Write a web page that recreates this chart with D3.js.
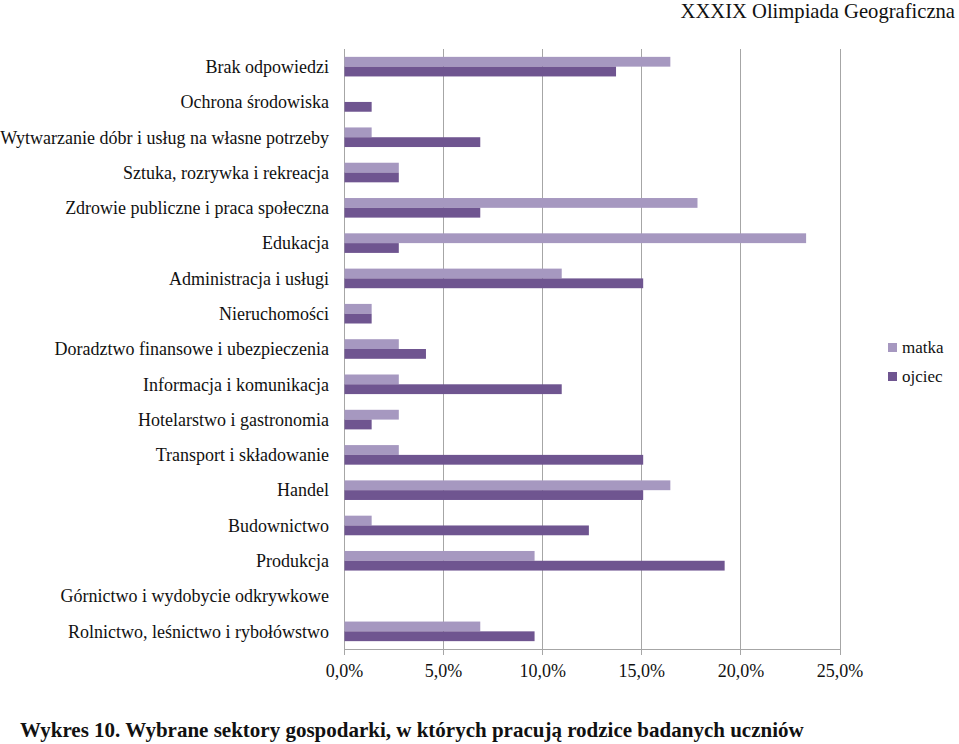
<!DOCTYPE html>
<html><head><meta charset="utf-8">
<script src="https://cdn.jsdelivr.net/npm/d3@7"></script>
<style>body{margin:0;background:#fff}svg{display:block}text{font-family:"Liberation Serif","Times New Roman",serif}</style>
</head><body><svg id="c" width="959" height="744"></svg>
<script>
const categories = ["Brak odpowiedzi","Ochrona środowiska","Wytwarzanie dóbr i usług na własne potrzeby","Sztuka, rozrywka i rekreacja","Zdrowie publiczne i praca społeczna","Edukacja","Administracja i usługi","Nieruchomości","Doradztwo finansowe i ubezpieczenia","Informacja i komunikacja","Hotelarstwo i gastronomia","Transport i składowanie","Handel","Budownictwo","Produkcja","Górnictwo i wydobycie odkrywkowe","Rolnictwo, leśnictwo i rybołówstwo"];
const matka  = [16.44,0,1.37,2.74,17.81,23.29,10.96,1.37,2.74,2.74,2.74,2.74,16.44,1.37,9.59,0,6.85];
const ojciec = [13.70,1.37,6.85,2.74,6.85,2.74,15.07,1.37,4.11,10.96,1.37,15.07,15.07,12.33,19.18,0,9.59];
const seriesNames = ["matka","ojciec"];
const seriesColors = ["#a698c0","#6f5590"];
const ticks = [0,5,10,15,20,25];

const svg = d3.select("#c");
const x = d3.scaleLinear().domain([0,25]).range([344.5,840]);
const y = d3.scaleBand().domain(categories).range([49,649]).paddingInner(0.445).paddingOuter(0.2225);
const inner = d3.scaleBand().domain(seriesNames).range([0,y.bandwidth()]);

// gridlines
svg.append("g").selectAll("line").data(ticks).join("line")
  .attr("x1",d=>x(d)).attr("x2",d=>x(d)).attr("y1",49).attr("y2",d=>d===0?649:655)
  .attr("stroke","#a6a6a6").attr("stroke-width",1).attr("shape-rendering","crispEdges");
svg.append("line").attr("x1",x(0)).attr("x2",x(25)).attr("y1",649.5).attr("y2",649.5)
  .attr("stroke","#a6a6a6").attr("shape-rendering","crispEdges");
svg.append("g").selectAll("line").data(ticks).join("line")
  .attr("x1",d=>x(d)).attr("x2",d=>x(d)).attr("y1",649).attr("y2",655)
  .attr("stroke","#a6a6a6").attr("shape-rendering","crispEdges");

const rows = categories.map((c,i)=>({c, vals:[matka[i],ojciec[i]]}));
const g = svg.append("g").selectAll("g").data(rows).join("g").attr("transform",d=>`translate(0,${y(d.c)})`);
g.selectAll("rect").data(d=>d.vals.map((v,j)=>({v,s:seriesNames[j],col:seriesColors[j]}))).join("rect")
  .attr("x",x(0)).attr("y",d=>inner(d.s)).attr("width",d=>x(d.v)-x(0)).attr("height",inner.bandwidth())
  .attr("fill",d=>d.col);

// category labels
svg.append("g").selectAll("text").data(categories).join("text")
  .attr("x",329).attr("y",d=>y(d)+y.bandwidth()/2).attr("dy","0.35em")
  .attr("text-anchor","end").attr("font-size",18).attr("fill","#111").text(d=>d);

// x tick labels
svg.append("g").selectAll("text").data(ticks).join("text")
  .attr("x",d=>x(d)).attr("y",677).attr("text-anchor","middle").attr("font-size",18).attr("fill","#111")
  .text(d=>d.toFixed(1).replace(".",",")+"%");

// legend
const lg = svg.append("g").selectAll("g").data(seriesNames).join("g")
  .attr("transform",(d,i)=>`translate(888,${343+i*29})`);
lg.append("rect").attr("width",9).attr("height",9).attr("fill",(d,i)=>seriesColors[i]);
lg.append("text").attr("x",14).attr("y",10).attr("font-size",17).attr("fill","#111").text(d=>d);

// header and caption
svg.append("text").attr("x",955).attr("y",18).attr("text-anchor","end").attr("font-size",20.6).attr("fill","#111").text("XXXIX Olimpiada Geograficzna");
svg.append("text").attr("x",20).attr("y",737).attr("font-size",21).attr("font-weight","bold").attr("fill","#111").text("Wykres 10. Wybrane sektory gospodarki, w których pracują rodzice badanych uczniów");
</script></body></html>
